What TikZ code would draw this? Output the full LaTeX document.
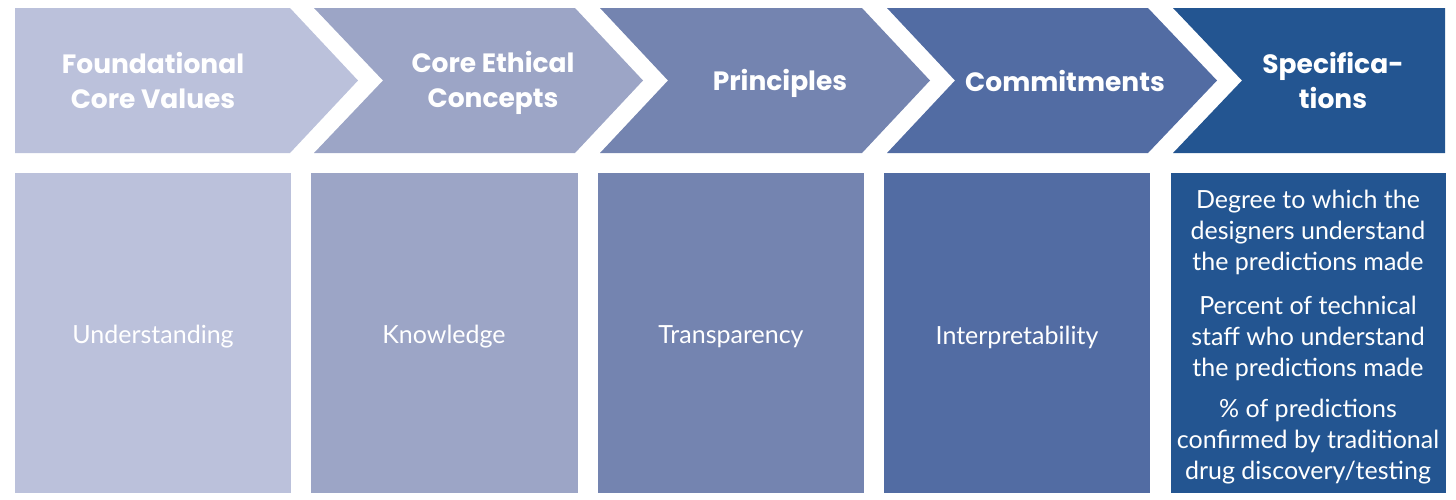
\documentclass[tikz,border=0pt]{standalone}
\usepackage{fontspec}
\setmainfont{Lato}
\newfontfamily\headfont{Poppins}
\definecolor{cA}{RGB}{187,193,219}
\definecolor{cB}{RGB}{156,165,198}
\definecolor{cC}{RGB}{116,132,176}
\definecolor{cD}{RGB}{82,108,163}
\definecolor{cE}{RGB}{35,85,145}
\begin{document}
\begin{tikzpicture}[x=1pt,y=-1pt,
  head/.style={text=white,align=center,inner sep=0pt,font=\headfont\bfseries\fontsize{26.5}{35}\selectfont},
  body/.style={text=white,align=center,inner sep=0pt,font=\fontsize{25}{31}\selectfont}]
\useasboundingbox (0,0) rectangle (1456,499);
% chevrons
\fill[cA] (15,8) -- (290,8) -- (358,80.5) -- (290,153) -- (15,153) -- cycle;
\fill[cB] (314,8) -- (575,8) -- (643,80.5) -- (575,153) -- (314,153) -- (383,80.5) -- cycle;
\fill[cC] (600,8) -- (862,8) -- (930,80.5) -- (862,153) -- (600,153) -- (668,80.5) -- cycle;
\fill[cD] (887,8) -- (1148,8) -- (1217,80.5) -- (1148,153) -- (887,153) -- (955,80.5) -- cycle;
\fill[cE] (1173,8) -- (1445,8) -- (1445,153) -- (1173,153) -- (1242,80.5) -- cycle;
% headings
\node[head] (h1) at (153,80) {Foundational\\Core Values};
\node[head] (h2) at (493,83) {Core Ethical\\Concepts};
\node[head] (h3) at (780,83) {Principles};
\node[head] (h4) at (1065,81) {Commitments};
\node[head] (h5) at (1333,80) {Specifica-\\tions};
% boxes
\fill[cA] (15,173) rectangle (291,493);
\fill[cB] (311,173) rectangle (578,493);
\fill[cC] (598,173) rectangle (864,493);
\fill[cD] (884,173) rectangle (1150,493);
\fill[cE] (1171,173) rectangle (1446,493);
\node[body] (b1) at (153,337) {Understanding};
\node[body] (b2) at (444,337) {Knowledge};
\node[body] (b3) at (731,337) {Transparency};
\node[body] (b4) at (1017,337) {Interpretability};
\node[body] (s1) at (1308,232) {Degree to which the\\designers understand\\the predictions made};
\node[body] (s2) at (1308,338) {Percent of technical\\staff who understand\\the predictions made};
\node[body] (s3) at (1308,442) {\% of predictions\\confirmed by traditional\\drug discovery/testing};
\end{tikzpicture}
\end{document}
